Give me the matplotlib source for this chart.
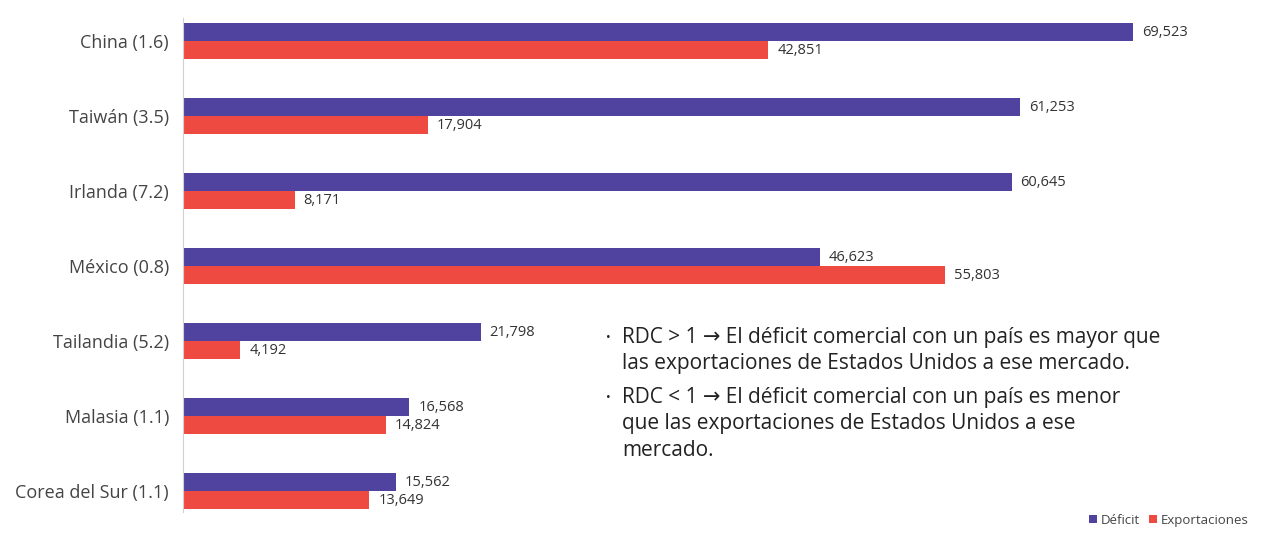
import matplotlib
matplotlib.use("Agg")
import matplotlib.pyplot as plt
import numpy as np

plt.rcParams['font.family'] = ['Open Sans', 'DejaVu Sans']

categories = ["China (1.6)", "Taiwán (3.5)", "Irlanda (7.2)", "México (0.8)",
              "Tailandia (5.2)", "Malasia (1.1)", "Corea del Sur (1.1)"]
deficit = [69523, 61253, 60645, 46623, 21798, 16568, 15562]
exportaciones = [42851, 17904, 8171, 55803, 4192, 14824, 13649]
series_names = ["Déficit", "Exportaciones"]
colors = ["#4f439f", "#ef4a42"]

fig = plt.figure(figsize=(12.67, 5.36), dpi=100)
ax = fig.add_axes([183/1267, 1-512/536, (1190-183)/1267, (512-18)/536])

y = np.arange(len(categories))
h = 0.24
b1 = ax.barh(y - h/2, deficit, height=h, color=colors[0], label=series_names[0])
b2 = ax.barh(y + h/2, exportaciones, height=h, color=colors[1], label=series_names[1])

for rect, v in zip(b1, deficit):
    ax.text(rect.get_width() + 650, rect.get_y() + rect.get_height()/2, f"{v:,}",
            va="center", ha="left", fontsize=10.5, color="#333333")
for rect, v in zip(b2, exportaciones):
    ax.text(rect.get_width() + 650, rect.get_y() + rect.get_height()/2, f"{v:,}",
            va="center", ha="left", fontsize=10.5, color="#333333")

ax.set_xlim(0, 73700)
ax.set_ylim(6 + 0.28, -0.307)
ax.set_yticks(y)
ax.set_yticklabels(categories, fontsize=13, color="#444444")
ax.tick_params(axis='y', length=0, pad=10)
ax.set_xticks([])
for s in ["top", "right", "bottom"]:
    ax.spines[s].set_visible(False)
ax.spines["left"].set_color("#d0d0d0")

# annotation
bx, tx = 606/1267, 622/1267
fs = 15
fig.text(bx, 1-338/536, "•", fontsize=9, va="center", ha="left", color="#222222")
fig.text(tx, 1-338/536, "RDC > 1 → El déficit comercial con un país es mayor que",
         fontsize=fs, va="center", ha="left", color="#222222")
fig.text(tx, 1-364/536, "las exportaciones de Estados Unidos a ese mercado.",
         fontsize=fs, va="center", ha="left", color="#222222")
fig.text(bx, 1-398/536, "•", fontsize=9, va="center", ha="left", color="#222222")
fig.text(tx, 1-398/536, "RDC < 1 → El déficit comercial con un país es menor",
         fontsize=fs, va="center", ha="left", color="#222222")
fig.text(tx, 1-424/536, "que las exportaciones de Estados Unidos a ese",
         fontsize=fs, va="center", ha="left", color="#222222")
fig.text(tx, 1-450/536, "mercado.",
         fontsize=fs, va="center", ha="left", color="#222222")

fig.legend(handles=[b1, b2], labels=series_names, loc="lower right",
           bbox_to_anchor=(0.995, -0.005), ncol=2, frameon=False, fontsize=9.5,
           handlelength=0.6, handleheight=0.6, handletextpad=0.3, columnspacing=0.7,
           labelcolor="#444444")

fig.savefig("out.png", dpi=100, facecolor="white")
